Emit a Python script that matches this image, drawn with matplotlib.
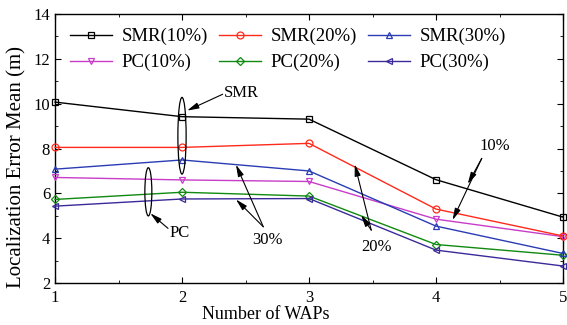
import matplotlib
matplotlib.use('Agg')
import matplotlib.pyplot as plt
from matplotlib.patches import Ellipse
from matplotlib.ticker import MultipleLocator

plt.rcParams['font.family'] = ['Liberation Serif', 'DejaVu Serif']
plt.rcParams['mathtext.fontset'] = 'stix'

waps = [1, 2, 3, 4, 5]
smr10 = [10.07, 9.42, 9.31, 6.61, 4.94]
smr20 = [8.05, 8.05, 8.23, 5.30, 4.10]
smr30 = [7.08, 7.49, 7.00, 4.54, 3.32]
pc10 = [6.71, 6.60, 6.53, 4.85, 4.07]
pc20 = [5.73, 6.05, 5.88, 3.72, 3.24]
pc30 = [5.43, 5.75, 5.77, 3.47, 2.76]

series = [
    ('SMR(10%)', smr10, 'black', 's'),
    ('PC(10%)', pc10, '#c83cc8', 'v'),
    ('SMR(20%)', smr20, '#ff2a1a', 'o'),
    ('PC(20%)', pc20, '#108a10', 'D'),
    ('SMR(30%)', smr30, '#2a3cb4', '^'),
    ('PC(30%)', pc30, '#3a2a9a', '<'),
]

fig = plt.figure(figsize=(5.67, 3.25), dpi=100)
ax = fig.add_axes([0.097, 0.129, 0.896, 0.828])

for label, vals, color, marker in series:
    ms = 4.5 if marker == 'D' else 5
    ax.plot(waps, vals, color=color, marker=marker, markersize=ms, mfc='none',
            mec=color, lw=1.0, mew=0.9, label=label, clip_on=False, zorder=3)

ax.set_xlim(1, 5)
ax.set_ylim(2, 14)
ax.xaxis.set_major_locator(MultipleLocator(1))
ax.xaxis.set_minor_locator(MultipleLocator(0.5))
ax.yaxis.set_major_locator(MultipleLocator(2))
ax.yaxis.set_minor_locator(MultipleLocator(1))
ax.tick_params(which='both', direction='in', top=True, right=True, labelsize=12)
ax.tick_params(which='major', length=4)
ax.tick_params(which='minor', length=2.5)
ax.tick_params(axis='x', pad=5)
for s in ax.spines.values():
    s.set_linewidth(1.0)

ax.set_xlabel('Number of WAPs', fontsize=13, labelpad=1)
ax.xaxis.set_label_coords(0.415, -0.085)
ax.set_ylabel('Localization Error Mean (m)', fontsize=15)
ax.yaxis.set_label_coords(-0.056, 0.43)

ax.legend(ncol=3, frameon=False, fontsize=13.5, loc='upper left',
          bbox_to_anchor=(-0.004, 1.01), handlelength=2.25, columnspacing=0.6,
          labelspacing=0.45, handletextpad=0.5)

# ellipses
ax.add_patch(Ellipse((2.0, 8.57), 0.065, 3.42, fill=False, ec='black', lw=0.9, zorder=4))
ax.add_patch(Ellipse((1.735, 6.07), 0.055, 2.15, fill=False, ec='black', lw=0.9, zorder=4))

arrow = dict(arrowstyle='-|>,head_length=0.7,head_width=0.18', color='black',
             lw=0.8, mutation_scale=10, shrinkA=0, shrinkB=0)

ax.text(2.47, 10.46, 'SMR', fontsize=12, ha='center', va='center')
ax.annotate('', xy=(2.04, 9.69), xytext=(2.32, 10.42), arrowprops=arrow)
ax.text(1.98, 4.22, 'PC', fontsize=12, ha='center', va='center')
ax.annotate('', xy=(1.75, 5.11), xytext=(1.89, 4.44), arrowprops=arrow)

for txt, tx, ty, tail, heads in [
    ('30%', 2.67, 3.92, (2.64, 4.51), [(2.425, 7.28), (2.425, 5.73)]),
    ('20%', 3.53, 3.62, (3.49, 4.36), [(3.36, 7.30), (3.41, 5.03)]),
    ('10%', 4.46, 8.11, (4.36, 7.56), [(4.25, 6.42), (4.13, 4.81)]),
]:
    ax.text(tx, ty, txt, fontsize=12, ha='center', va='center')
    for head in heads:
        ax.annotate('', xy=head, xytext=tail, arrowprops=arrow)

fig.savefig('out.png', dpi=100)
